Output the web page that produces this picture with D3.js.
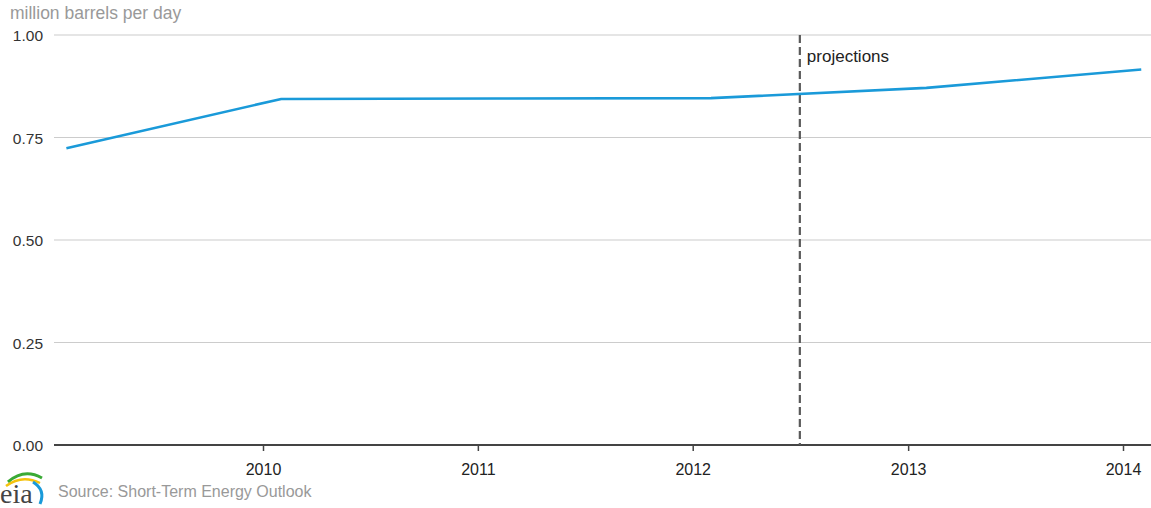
<!DOCTYPE html>
<html>
<head>
<meta charset="utf-8">
<script src="https://cdn.jsdelivr.net/npm/d3@7"></script>
<style>
  body { margin: 0; background: #fff; }
  text { font-family: "Liberation Sans", Arial, Helvetica, sans-serif; }
</style>
</head>
<body>
<script>
// data
const dates = ["2009-02-01", "2010-02-01", "2011-02-01", "2012-02-01", "2013-02-01", "2014-02-01"]
const values = [0.724, 0.844, 0.845, 0.846, 0.871, 0.916]
const yTicks = [0, 0.25, 0.5, 0.75, 1.0]
const xTicks = ["2010", "2011", "2012", "2013", "2014"]
const projectionStart = "2012-07-01"

const width = 1151, height = 508
const margin = { top: 35, right: 0, bottom: 63, left: 54 }

const parse = d3.timeParse("%Y-%m-%d")
const data = dates.map((d, i) => ({ date: parse(d), value: values[i] }))

const svg = d3.select("body").append("svg")
    .attr("width", width)
    .attr("height", height)

// x: ticks at Jan 1, 2010 -> 263px and Jan 1, 2014 -> 1123px
const xScale = d3.scaleTime()
    .domain([new Date(2010, 0, 1), new Date(2014, 0, 1)])
    .range([263, 1123])

const yScale = d3.scaleLinear()
    .domain([0, 1])
    .range([height - margin.bottom, margin.top])

// gridlines
svg.append("g")
    .selectAll("line")
    .data(yTicks.filter(d => d > 0))
    .enter()
    .append("line")
    .attr("x1", margin.left)
    .attr("x2", width)
    .attr("y1", d => yScale(d))
    .attr("y2", d => yScale(d))
    .attr("stroke", "#cccccc")
    .attr("stroke-width", 1.2)

// y labels
svg.append("g")
    .selectAll("text")
    .data(yTicks)
    .enter()
    .append("text")
    .attr("x", 43)
    .attr("y", d => yScale(d) + 6)
    .attr("text-anchor", "end")
    .attr("fill", "#333")
    .style("font-size", "15.5px")
    .text(d => d3.format(".2f")(d))

// x axis
const xAxis = svg.append("g")
    .attr("transform", "translate(0," + yScale(0) + ")")
    .call(d3.axisBottom(xScale)
        .tickValues(xTicks.map(d => new Date(+d, 0, 1)))
        .tickFormat(d3.timeFormat("%Y"))
        .tickSize(6)
        .tickSizeOuter(0))
xAxis.select(".domain")
    .attr("d", "M" + margin.left + ",0H" + width)
    .attr("stroke", "#444")
    .attr("stroke-width", 2)
xAxis.selectAll(".tick line")
    .attr("stroke", "#444")
    .attr("stroke-width", 1.5)
xAxis.selectAll(".tick text")
    .attr("y", 30)
    .attr("dy", 0)
    .attr("fill", "#222")
    .style("font-size", "16px")
    .style("font-family", "'Liberation Sans', Arial, sans-serif")

// projections marker
const px = xScale(parse(projectionStart))
svg.append("line")
    .attr("x1", px)
    .attr("x2", px)
    .attr("y1", yScale(1))
    .attr("y2", yScale(0))
    .attr("stroke", "#5a5a5a")
    .attr("stroke-width", 2.2)
    .attr("stroke-dasharray", "8,4")

svg.append("text")
    .attr("x", px + 7)
    .attr("y", 62)
    .attr("fill", "#222")
    .style("font-size", "17px")
    .text("projections")

// series line
svg.append("path")
    .datum(data)
    .attr("d", d3.line()
        .x(d => xScale(d.date))
        .y(d => yScale(d.value)))
    .attr("fill", "none")
    .attr("stroke", "#1a9ad9")
    .attr("stroke-width", 2.6)
    .attr("stroke-linejoin", "round")

// unit label
svg.append("text")
    .attr("x", 10)
    .attr("y", 19)
    .attr("fill", "#999")
    .style("font-size", "17.5px")
    .text("million barrels per day")

// source
svg.append("text")
    .attr("x", 58)
    .attr("y", 497)
    .attr("fill", "#999")
    .style("font-size", "16px")
    .text("Source: Short-Term Energy Outlook")

// eia logo
const logo = svg.append("g").attr("transform", "translate(0,470)")
logo.append("path")
    .attr("d", "M8,12 Q24,-2 42,8")
    .attr("fill", "none")
    .attr("stroke", "#3aaa35")
    .attr("stroke-width", 3)
logo.append("path")
    .attr("d", "M6,16 Q22,4 40,13")
    .attr("fill", "none")
    .attr("stroke", "#f4c20d")
    .attr("stroke-width", 2.5)
logo.append("path")
    .attr("d", "M33,12 Q46,20 40,34")
    .attr("fill", "none")
    .attr("stroke", "#1a9ad9")
    .attr("stroke-width", 3)
logo.append("text")
    .attr("x", 0)
    .attr("y", 33)
    .attr("fill", "#444")
    .style("font-family", "'Liberation Serif', 'DejaVu Serif', serif")
    .style("font-size", "28px")
    .text("eia")
</script>
</body>
</html>
